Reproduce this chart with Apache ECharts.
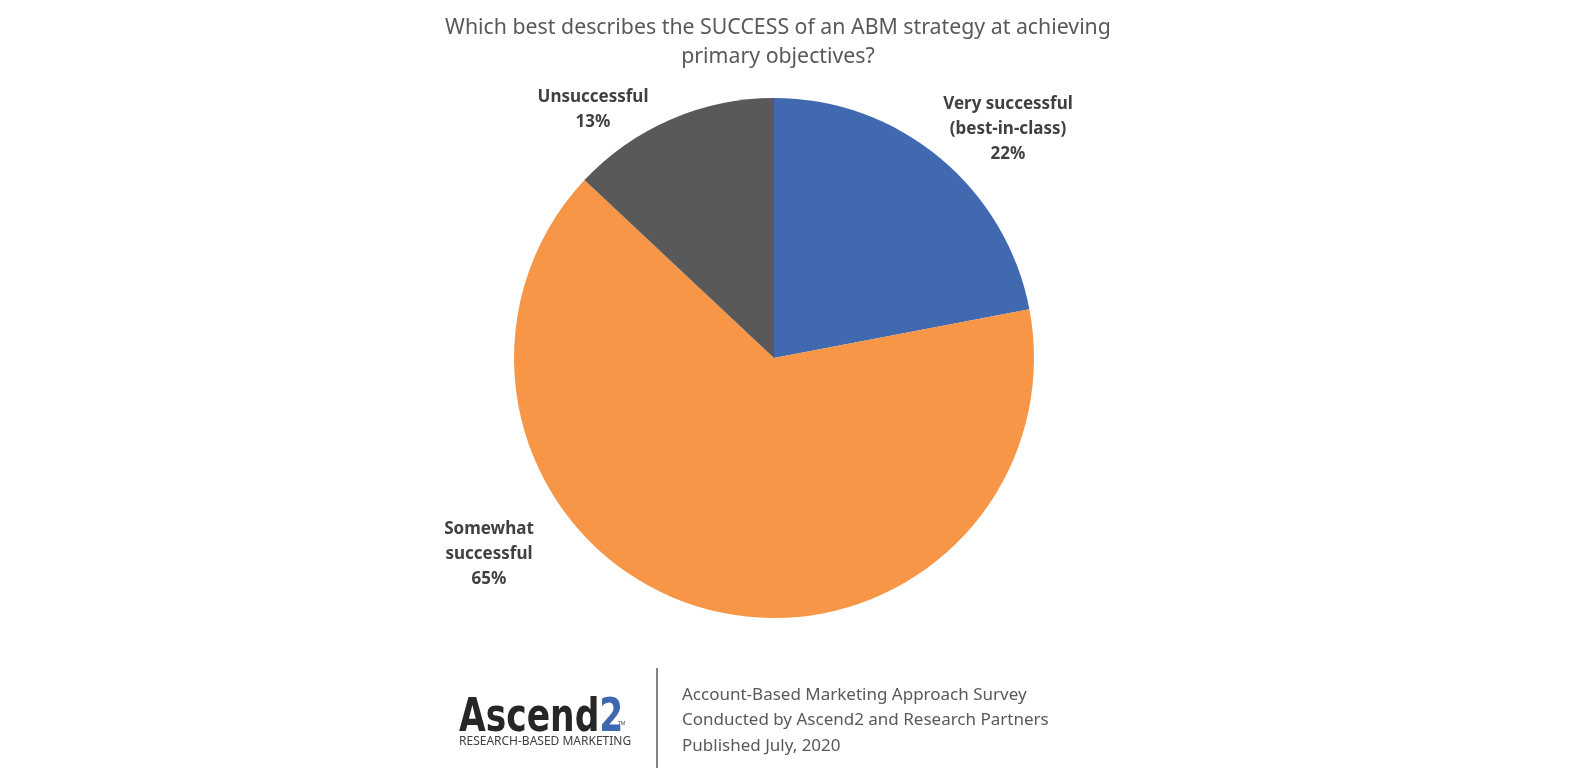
<!DOCTYPE html>
<html>
<head>
<meta charset="utf-8">
<script src="https://cdn.jsdelivr.net/npm/echarts@6/dist/echarts.min.js"></script>
<style>
  html, body { margin: 0; padding: 0; background: #fff; }
  #chart { width: 1575px; height: 774px; }
</style>
</head>
<body>
<div id="chart"></div>
<script>
const categories = ['Very successful\n(best-in-class)', 'Somewhat\nsuccessful', 'Unsuccessful']
const values = [22, 65, 13]
const colors = ['#4169AF', '#F79646', '#595959']
const footerLines = [
  'Account-Based Marketing Approach Survey',
  'Conducted by Ascend2 and Research Partners',
  'Published July, 2020',
]

// label anchor per slice (screen px)
const labelPos = [
  [1008, 129],
  [489, 554],
  [593, 110],
]

const FONT = '"Noto Sans", "Open Sans", sans-serif'

const chart = echarts.init(document.getElementById('chart'))

const option = {
  backgroundColor: '#fff',
  animation: false,
  title: {
    text: 'Which best describes the SUCCESS of an ABM strategy at achieving\nprimary objectives?',
    left: 773,
    textAlign: 'center',
    top: 8,
    textStyle: {
      fontFamily: FONT,
      fontSize: 21.3,
      fontWeight: 'normal',
      color: '#595959',
      lineHeight: 29,
    },
  },
  series: [
    {
      type: 'pie',
      center: [774, 358],
      radius: 260,
      startAngle: 90,
      clockwise: true,
      data: categories.map((name, i) => ({
        name,
        value: values[i],
        itemStyle: { color: colors[i] },
      })),
      label: {
        show: true,
        formatter: '{b}\n{d}%',
        fontFamily: FONT,
        fontSize: 17,
        fontWeight: 'bold',
        color: '#404040',
        lineHeight: 25,
        align: 'center',
      },
      labelLine: { show: false },
      labelLayout: params => ({
        x: labelPos[params.dataIndex][0],
        y: labelPos[params.dataIndex][1],
        align: 'center',
        verticalAlign: 'middle',
      }),
      emphasis: { disabled: true },
    },
  ],
  graphic: [
    {
      type: 'text',
      left: 459,
      top: 696,
      style: {
        rich: {
          a: { fontFamily: '"DejaVu Sans", sans-serif', fontSize: 46, fontWeight: 'bold', fill: '#262626' },
          b: { fontFamily: '"DejaVu Sans", sans-serif', fontSize: 46, fontWeight: 'bold', fill: '#3E67B0' },
        },
        text: '{a|Ascend}{b|2}',
      },
      scaleX: 0.75,
    },
    {
      type: 'text',
      left: 618,
      top: 721,
      style: {
        text: 'TM',
        fontFamily: FONT,
        fontSize: 5,
        fill: '#404040',
      },
    },
    {
      type: 'text',
      left: 459,
      top: 736,
      style: {
        text: 'RESEARCH-BASED MARKETING',
        fontFamily: FONT,
        fontSize: 12,
        fill: '#404040',
      },
    },
    {
      type: 'line',
      shape: { x1: 657, y1: 668, x2: 657, y2: 768 },
      style: { stroke: '#595959', lineWidth: 1.5 },
    },
    {
      type: 'text',
      left: 682,
      top: 682,
      style: {
        text: footerLines.join('\n'),
        fontFamily: FONT,
        fontSize: 17,
        lineHeight: 25.5,
        fill: '#595959',
      },
    },
  ],
}

chart.setOption(option)
</script>
</body>
</html>
